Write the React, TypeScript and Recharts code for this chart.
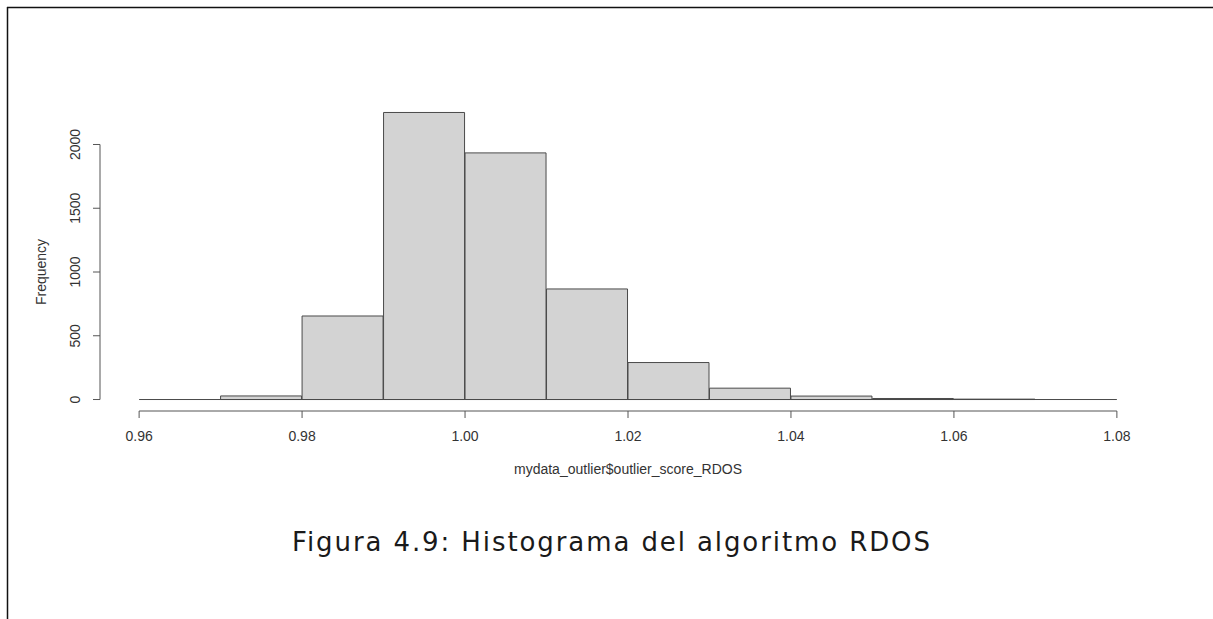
import { Bar, BarChart, ReferenceLine, XAxis, YAxis } from 'recharts';

// histogram of mydata_outlier$outlier_score_RDOS, breaks every 0.01
const binStarts = [0.96, 0.97, 0.98, 0.99, 1.0, 1.01, 1.02, 1.03, 1.04, 1.05, 1.06, 1.07];
const counts = [0, 28, 655, 2251, 1934, 867, 290, 89, 27, 8, 3, 0];
const binWidth = 0.01;
const xTicks = [0.96, 0.98, 1.0, 1.02, 1.04, 1.06, 1.08];
const yTicks = [0, 500, 1000, 1500, 2000];

const xLabel = 'mydata_outlier$outlier_score_RDOS';
const yLabel = 'Frequency';
const caption = 'Figura 4.9: Histograma del algoritmo RDOS';

const FONT = '"Liberation Sans", Arial, sans-serif';
const AXIS = '#555';
const INK = '#333';

export default function App() {
  const data = binStarts.map((lo, i) => ({ mid: lo + binWidth / 2, count: counts[i] }));

  // R style plot region: data range padded by 4% on each side
  const xLo = xTicks[0];
  const xHi = xTicks[xTicks.length - 1];
  const xPad = (xHi - xLo) * 0.04;
  const yMax = Math.max(...counts);
  const xDomain: [number, number] = [xLo - xPad, xHi + xPad];
  const yDomain: [number, number] = [-0.04 * yMax, 1.04 * yMax];

  return (
    <div style={{ position: 'absolute', left: 0, top: 0, width: 1213, height: 619, background: '#fff' }}>
      <BarChart
        width={1213}
        height={619}
        data={data}
        barCategoryGap={0}
        barGap={0}
        margin={{ top: 101, right: 57, bottom: 148, left: 40 }}
      >
        <XAxis
          dataKey="mid"
          type="number"
          domain={xDomain}
          allowDataOverflow
          ticks={xTicks}
          interval={0}
          tickFormatter={v => Number(v).toFixed(2)}
          axisLine={false}
          tickLine={{ stroke: AXIS }}
          tickSize={7}
          tickMargin={13}
          height={60}
          tick={{ fill: INK, fontSize: 14, fontFamily: FONT }}
        />
        <YAxis
          type="number"
          domain={yDomain}
          allowDataOverflow
          ticks={yTicks}
          interval={0}
          axisLine={false}
          tickLine={{ stroke: AXIS }}
          tickSize={7}
          tickMargin={13}
          width={60}
          tick={<RotatedTick />}
        />
        <ReferenceLine
          segment={[{ x: xLo, y: yDomain[0] }, { x: xHi, y: yDomain[0] }]}
          stroke={AXIS}
          ifOverflow="visible"
        />
        <ReferenceLine
          segment={[{ x: xDomain[0], y: yTicks[0] }, { x: xDomain[0], y: yTicks[yTicks.length - 1] }]}
          stroke={AXIS}
          ifOverflow="visible"
        />
        <Bar dataKey="count" fill="#d3d3d3" stroke="#4a4a4a" strokeWidth={1} isAnimationActive={false} />
        <ReferenceLine
          segment={[{ x: xLo, y: 0 }, { x: xHi, y: 0 }]}
          stroke="#4a4a4a"
          ifOverflow="visible"
        />
      </BarChart>
      <svg width={1213} height={619} style={{ position: 'absolute', left: 0, top: 0, pointerEvents: 'none' }}>
        <line x1={7} y1={7.5} x2={1213} y2={7.5} stroke="#111" strokeWidth={1.5} />
        <line x1={7.5} y1={7} x2={7.5} y2={619} stroke="#111" strokeWidth={1.5} />
        <text x={628} y={474} textAnchor="middle" fontSize={14} fontFamily={FONT} fill={INK}>
          {xLabel}
        </text>
        <text
          x={46}
          y={272}
          textAnchor="middle"
          fontSize={14}
          fontFamily={FONT}
          fill={INK}
          transform="rotate(-90 46 272)"
        >
          {yLabel}
        </text>
        <text
          x={611}
          y={551}
          textAnchor="middle"
          fontSize={26}
          fontFamily='"DejaVu Sans", sans-serif'
          fill="#1a1a1a"
          textLength={638}
          lengthAdjust="spacing"
        >
          {caption}
        </text>
      </svg>
    </div>
  );
}

function RotatedTick(props: any) {
  const { x, y, payload } = props;
  return (
    <text
      x={x}
      y={y}
      textAnchor="middle"
      fontSize={14}
      fontFamily={FONT}
      fill={INK}
      transform={`rotate(-90 ${x} ${y})`}
    >
      {payload.value}
    </text>
  );
}
